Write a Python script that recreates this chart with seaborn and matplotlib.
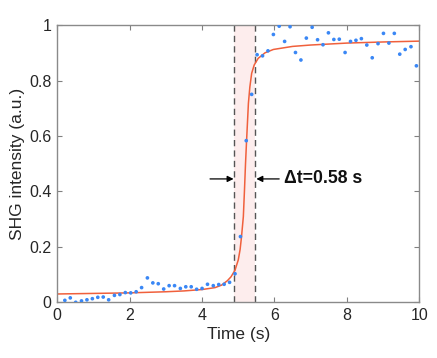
import matplotlib
matplotlib.use("Agg")
import matplotlib.pyplot as plt
import seaborn as sns
import pandas as pd

# measured data points (time in s, SHG intensity in a.u.)
time_pts = [0.21, 0.36, 0.51, 0.67, 0.82, 0.97, 1.12, 1.27, 1.42, 1.58,
            1.73, 1.88, 2.03, 2.18, 2.33, 2.49, 2.64, 2.79, 2.94, 3.09,
            3.24, 3.40, 3.55, 3.70, 3.85, 4.00, 4.15, 4.31, 4.46, 4.61,
            4.76, 4.91, 5.06, 5.22, 5.37, 5.52, 5.67, 5.82, 5.97, 6.13,
            6.28, 6.43, 6.58, 6.73, 6.88, 7.04, 7.19, 7.34, 7.49, 7.64,
            7.79, 7.95, 8.10, 8.25, 8.40, 8.55, 8.70, 8.86, 9.01, 9.16,
            9.31, 9.46, 9.61, 9.77, 9.92]
shg_pts = [0.007, 0.016, 0.000, 0.005, 0.009, 0.013, 0.018, 0.019, 0.009, 0.025,
           0.028, 0.035, 0.034, 0.038, 0.053, 0.088, 0.070, 0.067, 0.048, 0.060,
           0.060, 0.050, 0.056, 0.056, 0.047, 0.050, 0.065, 0.060, 0.064, 0.065,
           0.072, 0.103, 0.237, 0.583, 0.750, 0.893, 0.889, 0.907, 0.966, 0.996,
           0.941, 0.994, 0.901, 0.874, 0.953, 0.992, 0.947, 0.929, 0.972, 0.948,
           0.949, 0.901, 0.941, 0.945, 0.951, 0.928, 0.882, 0.933, 0.970, 0.935,
           0.970, 0.895, 0.912, 0.922, 0.853]

# fitted curve
fit_t = [0.0, 1.0, 2.0, 3.0, 3.5, 4.0, 4.36, 4.54, 4.7, 4.8, 4.91, 5.0, 5.05,
         5.09, 5.14, 5.17, 5.2, 5.23, 5.28, 5.32, 5.37, 5.44, 5.55, 5.74,
         5.97, 6.5, 7.0, 8.0, 9.0, 10.0]
fit_v = [0.030, 0.032, 0.034, 0.038, 0.041, 0.046, 0.053, 0.062, 0.078, 0.092,
         0.116, 0.153, 0.190, 0.237, 0.309, 0.400, 0.500, 0.585, 0.718, 0.777,
         0.826, 0.856, 0.880, 0.900, 0.912, 0.923, 0.928, 0.935, 0.939, 0.942]

# transition window
t_start = 4.89
t_end = 5.47
label_text = "\u0394t=0.58 s"

x_ticks = [0, 2, 4, 6, 8, 10]
y_ticks = [0, 0.2, 0.4, 0.6, 0.8, 1]

sns.set_style("white")
plt.rcParams['font.family'] = ['Liberation Sans', 'DejaVu Sans']

fig = plt.figure(figsize=(4.37, 3.58), dpi=100)
ax = fig.add_axes([0.131, 0.1556, 0.8285, 0.7744])

ax.axvspan(t_start, t_end, color='#fdeded', lw=0, zorder=0)
for xv in (t_start, t_end):
    ax.axvline(xv, color='#555555', lw=1.0, ls=(0, (4.5, 3)), zorder=1)

pts = pd.DataFrame({"t": time_pts, "v": shg_pts})
fit = pd.DataFrame({"t": fit_t, "v": fit_v})
sns.lineplot(data=fit, x="t", y="v", ax=ax, color='#f0603c', lw=1.1, zorder=2)
sns.scatterplot(data=pts, x="t", y="v", ax=ax, color='#3a87f5', s=7,
                edgecolor='none', zorder=3, clip_on=True)

y_arrow = 0.445
ax.annotate("", xy=(t_start - 0.02, y_arrow), xytext=(4.22, y_arrow),
            arrowprops=dict(arrowstyle='-|>', color='black', lw=0.9,
                            mutation_scale=9, shrinkA=0, shrinkB=0))
ax.annotate("", xy=(t_end + 0.03, y_arrow), xytext=(6.13, y_arrow),
            arrowprops=dict(arrowstyle='-|>', color='black', lw=0.9,
                            mutation_scale=9, shrinkA=0, shrinkB=0))
ax.text(6.27, y_arrow, label_text, fontsize=12.7, fontweight='bold',
        va='center', ha='left', color='#111111')

ax.set_xlim(0, 10)
ax.set_ylim(0, 1)
ax.set_xticks(x_ticks)
ax.set_xticklabels([str(v) for v in x_ticks])
ax.set_yticks(y_ticks)
ax.set_yticklabels(["0", "0.2", "0.4", "0.6", "0.8", "1"])
ax.set_xlabel("Time (s)", fontsize=12.5, color='#262626', labelpad=3)
ax.set_ylabel("SHG intensity (a.u.)", fontsize=12.5, color='#262626', labelpad=3)
ax.tick_params(direction='in', length=3.5, width=0.8, color='#808080',
               labelsize=11.5, labelcolor='#262626', top=True, right=True,
               bottom=True, left=True, pad=4)
for sp in ax.spines.values():
    sp.set_visible(True)
    sp.set_color('#8a8a8a')
    sp.set_linewidth(1.0)

fig.savefig("out.png", dpi=100)
